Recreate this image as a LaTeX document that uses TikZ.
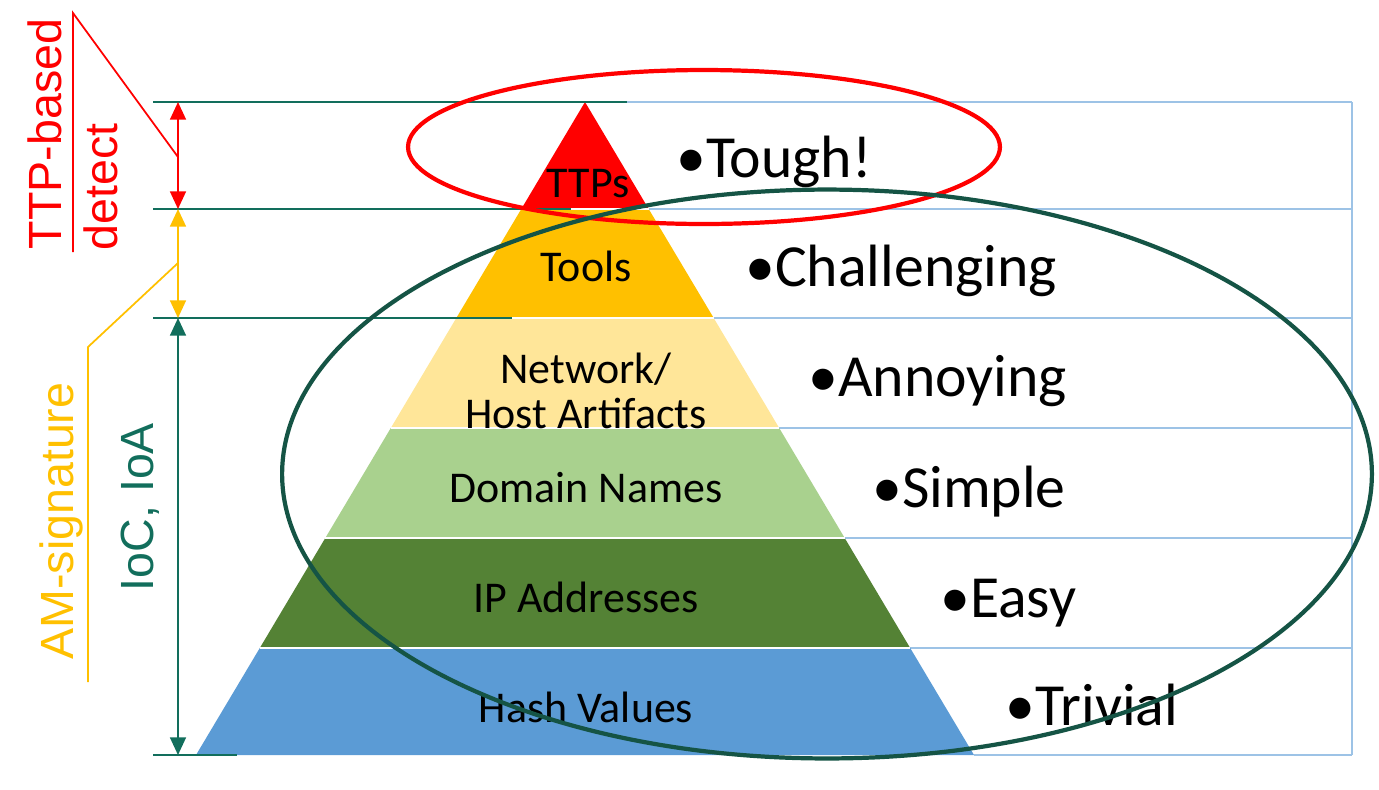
\documentclass[tikz,border=0pt]{standalone}
\usepackage{fontspec}
\setmainfont{Carlito}
\newfontfamily\arialf{Liberation Sans}
\usetikzlibrary{arrows.meta}
\definecolor{ttpred}{HTML}{FF0000}
\definecolor{toolor}{HTML}{FFC000}
\definecolor{netyel}{HTML}{FFE699}
\definecolor{domgrn}{HTML}{A9D18E}
\definecolor{ipgrn}{HTML}{548235}
\definecolor{hashbl}{HTML}{5B9BD5}
\definecolor{tblue}{HTML}{9DC3E6}
\definecolor{iocgreen}{HTML}{126E5C}
\definecolor{ellgreen}{HTML}{155445}
\begin{document}
\begin{tikzpicture}[x=0.02cm,y=-0.02cm,
  tblline/.style={tblue, line width=0.8pt},
  guide/.style={iocgreen, line width=1.1pt},
  sep/.style={white, line width=1.6pt},
  dimarrow/.style={line width=1.1pt, {Triangle[width=9pt,length=10pt]}-{Triangle[width=9pt,length=10pt]}},
  bracket/.style={line width=1pt},
  plabel/.style={anchor=base, font=\fontsize{25}{25.5}\selectfont, text=black, inner sep=0pt},
  rlabel/.style={anchor=base west, font=\fontsize{34}{40}\selectfont, text=black, inner sep=0pt},
  sidelabel/.style={rotate=90, font=\arialf\fontsize{26.5}{30}\selectfont, inner sep=0pt},
  ring/.style={line width=2.4pt}
]
\useasboundingbox (0,0) rectangle (1379,789);

% table lines
\draw[tblline] (627,102) -- (1352,102);
\draw[tblline] (571,209) -- (1352,209);
\draw[tblline] (713.7,318) -- (1352,318);
\draw[tblline] (779.2,428) -- (1352,428);
\draw[tblline] (844.7,538) -- (1352,538);
\draw[tblline] (910.2,648) -- (1352,648);
\draw[tblline] (974,755) -- (1352,755);
\draw[tblline] (1352,102) -- (1352,755);

% pyramid layers
\fill[ttpred] (585,102) -- (648.7,209) -- (521.3,209) -- cycle;
\fill[toolor] (521.3,209) -- (648.7,209) -- (713.7,318) -- (456.3,318) -- cycle;
\fill[netyel] (456.3,318) -- (713.7,318) -- (779.2,428) -- (390.8,428) -- cycle;
\fill[domgrn] (390.8,428) -- (779.2,428) -- (844.7,538) -- (325.3,538) -- cycle;
\fill[ipgrn] (325.3,538) -- (844.7,538) -- (910.2,648) -- (259.8,648) -- cycle;
\fill[hashbl] (259.8,648) -- (910.2,648) -- (974,755) -- (196,755) -- cycle;
\draw[sep] (521.3,209) -- (648.7,209);
\draw[sep] (456.3,318) -- (713.7,318);
\draw[sep] (390.8,428) -- (779.2,428);
\draw[sep] (325.3,538) -- (844.7,538);
\draw[sep] (259.8,648) -- (910.2,648);

% guide lines
\draw[guide] (153,102) -- (627,102);
\draw[guide] (153,209) -- (571,209);
\draw[guide] (153,318) -- (512,318);
\draw[guide] (153,755) -- (237,755);

% pyramid labels
\node[plabel] (ttps) at (588,197) {TTPs};
\node[plabel] (tools) at (586,281) {Tools};
\node[anchor=center, font=\fontsize{25}{25.5}\selectfont, align=center, inner sep=0pt] (net) at (586,391) {Network/\\Host Artifacts};
\node[plabel] (dom) at (586,502) {Domain Names};
\node[plabel] (ip) at (586,612) {IP Addresses};
\node[plabel] (hash) at (586,722) {Hash Values};

% right labels
\node[rlabel] (r1) at (676,177) {•Tough!};
\node[rlabel] (r2) at (745,286) {•Challenging};
\node[rlabel] (r3) at (808,396) {•Annoying};
\node[rlabel] (r4) at (872,507) {•Simple};
\node[rlabel] (r5) at (940,617) {•Easy};
\node[rlabel] (r6) at (1005,725) {•Trivial};

% dimension arrows
\coordinate (a0) at (178,102);
\coordinate (a1) at (178,209);
\coordinate (a2) at (178,318);
\coordinate (a3) at (178,755);
\draw[dimarrow, ttpred] (a0) -- (a1);
\draw[dimarrow, toolor] (a1) -- (a2);
\draw[dimarrow, iocgreen] (a2) -- (a3);

% bracket labels
\coordinate (rb0) at (73,252);
\coordinate (rb1) at (73,13);
\coordinate (rb2) at (178,157);
\draw[bracket, ttpred] (rb0) -- (rb1) -- (rb2);
\coordinate (yb0) at (88,682);
\coordinate (yb1) at (88,347);
\coordinate (yb2) at (178,263);
\draw[bracket, toolor] (yb0) -- (yb1) -- (yb2);

\node[sidelabel, text=ttpred] (ttpb) at (45,134) {TTP-based};
\node[sidelabel, text=ttpred] (det) at (101,187) {detect};
\node[sidelabel, text=toolor] (ams) at (61,521) {AM-signature};
\node[sidelabel, text=iocgreen] (ioc) at (140,507) {IoC, IoA};

% ellipses
\draw[ring, ttpred] (704,147) ellipse [x radius=5.92cm, y radius=1.54cm];
\draw[ring, ellgreen] (827,474) ellipse [x radius=10.9cm, y radius=5.69cm];
\end{tikzpicture}
\end{document}
